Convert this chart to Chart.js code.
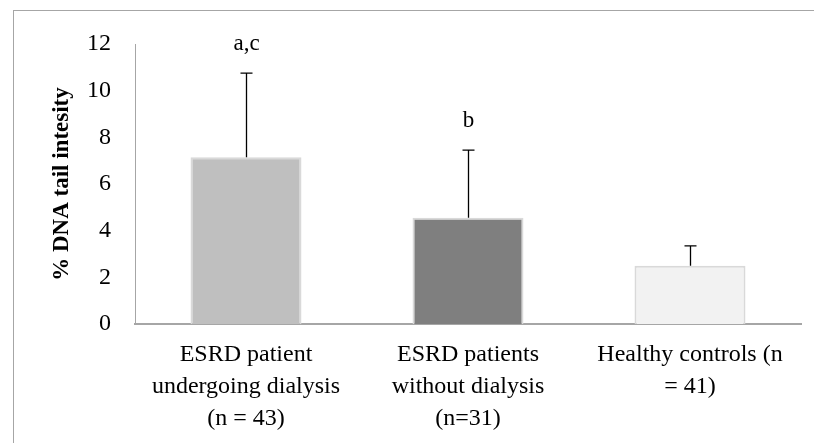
<!DOCTYPE html>
<html>
<head>
<meta charset="utf-8">
<script src="https://cdn.jsdelivr.net/npm/chart.js@4/dist/chart.umd.min.js"></script>
<style>
  html, body { margin: 0; padding: 0; background: #fff; overflow: hidden; }
  #wrap { position: relative; width: 814px; height: 443px; overflow: hidden; }
  #frame { position: absolute; left: 13px; top: 10px; width: 820px; height: 460px;
           border-left: 1.5px solid #a6a6a6; border-top: 1.5px solid #a6a6a6; box-sizing: border-box; }
  canvas { position: absolute; left: 0; top: 0; }
</style>
</head>
<body>
<div id="wrap">
  <div id="frame"></div>
  <canvas id="c" width="814" height="443"></canvas>
</div>
<script>
// ---- data ----
const categories = [
  ["ESRD patient", "undergoing dialysis", "(n = 43)"],
  ["ESRD patients", "without dialysis", "(n=31)"],
  ["Healthy controls (n", "= 41)"]
];
const means = [7.15, 4.55, 2.5];
const sdUpper = [3.6, 2.9, 0.85];
const sigLabels = ["a,c", "b", ""];
const yTicks = [0, 2, 4, 6, 8, 10, 12];
const barColors = ["#bfbfbf", "#7f7f7f", "#f2f2f2"];
const yTitle = "% DNA tail intesity";

const FONT = "'Liberation Serif', 'Times New Roman', serif";
const PAD_LEFT = 48;

const errorBars = {
  id: 'errorBars',
  afterDatasetsDraw(chart) {
    const ctx = chart.ctx;
    const meta = chart.getDatasetMeta(0);
    const y = chart.scales.y;
    ctx.save();
    ctx.strokeStyle = '#000';
    ctx.lineWidth = 1.3;
    meta.data.forEach((bar, i) => {
      const x = Math.round(bar.x) + 0.5;
      const yTop = y.getPixelForValue(means[i] + sdUpper[i]);
      const yBase = y.getPixelForValue(means[i]);
      ctx.beginPath();
      ctx.moveTo(x, yBase);
      ctx.lineTo(x, yTop);
      ctx.moveTo(x - 6, yTop);
      ctx.lineTo(x + 6, yTop);
      ctx.stroke();
      if (sigLabels[i]) {
        ctx.fillStyle = '#000';
        ctx.font = "23px " + FONT;
        ctx.textAlign = 'center';
        ctx.textBaseline = 'middle';
        ctx.fillText(sigLabels[i], x, yTop - 29);
      }
    });
    ctx.restore();
  }
};

new Chart(document.getElementById('c'), {
  type: 'bar',
  data: {
    labels: categories,
    datasets: [{
      data: means,
      backgroundColor: barColors,
      borderColor: '#d9d9d9',
      borderWidth: 2,
      borderSkipped: 'bottom',
      categoryPercentage: 1.0,
      barPercentage: 0.5
    }]
  },
  options: {
    responsive: false,
    animation: false,
    devicePixelRatio: 1,
    layout: { padding: { left: PAD_LEFT, right: 13, top: 44, bottom: 0 } },
    plugins: { legend: { display: false }, tooltip: { enabled: false } },
    scales: {
      x: {
        grid: { display: false, drawTicks: false },
        border: { display: true, color: '#a6a6a6', width: 2 },
        ticks: {
          color: '#000', padding: 15, maxRotation: 0, autoSkip: false,
          font: { family: FONT, size: 24, lineHeight: 1.33 }
        },
        afterFit(scale) { scale.height = 443 - 324; }
      },
      y: {
        min: 0, max: 12,
        afterBuildTicks(scale) { scale.ticks = yTicks.map(v => ({ value: v })); },
        grid: { display: false, drawTicks: false },
        border: { display: true, color: '#a6a6a6', width: 1 },
        ticks: {
          color: '#000', padding: 24,
          font: { family: FONT, size: 24 }
        },
        title: {
          display: true, text: yTitle, color: '#000', padding: { top: 0, bottom: 0 },
          font: { family: FONT, size: 23, weight: 'bold' }
        },
        afterFit(scale) { scale.width = 135 - PAD_LEFT; }
      }
    }
  },
  plugins: [errorBars]
});
</script>
</body>
</html>
